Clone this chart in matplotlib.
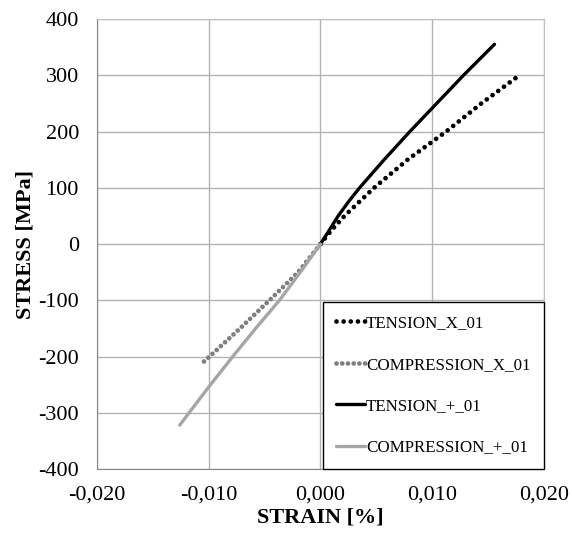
import matplotlib.pyplot as plt

plt.rcParams['font.family'] = ['Liberation Serif', 'DejaVu Serif']
plt.rcParams['axes.unicode_minus'] = False

# strain [-], stress [MPa]
tension_x_strain = [0.0, 0.001, 0.00215, 0.0048, 0.0078, 0.01125, 0.0144, 0.0178]
tension_x_stress = [0, 25, 50, 100, 150, 200, 250, 300]

compression_x_strain = [0.0, -0.0020, -0.00456, -0.0072, -0.00993, -0.01077]
compression_x_stress = [0, -50, -100, -150, -200, -215]

tension_p_strain = [0.0, 0.0008, 0.00155, 0.0025, 0.0035, 0.0046, 0.0057,
                    0.0080, 0.0104, 0.0128, 0.01557]
tension_p_stress = [0, 25, 49, 75, 100, 125, 150, 200, 250, 300, 355]

compression_p_strain = [0.0, -0.0018, -0.00367, -0.0058, -0.00785, -0.0100, -0.0126]
compression_p_stress = [0, -50, -100, -150, -200, -254, -322]

x_ticks = [-0.02, -0.01, 0.0, 0.01, 0.02]
x_tick_labels = ['-0,020', '-0,010', '0,000', '0,010', '0,020']
y_ticks = [-400, -300, -200, -100, 0, 100, 200, 300, 400]

fig = plt.figure(figsize=(5.72, 5.37), dpi=100)
ax = fig.add_axes([0.1696, 0.1266, 0.7814, 0.838])

ax.plot(tension_x_strain, tension_x_stress, color='black', lw=3.4,
        linestyle=(0, (0.01, 1.5)), dash_capstyle='round', label='TENSION_X_01')
ax.plot(compression_x_strain, compression_x_stress, color='#7f7f7f', lw=3.4,
        linestyle=(0, (0.01, 1.2)), dash_capstyle='round', label='COMPRESSION_X_01')
ax.plot(tension_p_strain, tension_p_stress, color='black', lw=2.4,
        solid_capstyle='round', solid_joinstyle='round', label='TENSION_+_01')
ax.plot(compression_p_strain, compression_p_stress, color='#a6a6a6', lw=2.4,
        solid_capstyle='round', solid_joinstyle='round', label='COMPRESSION_+_01')

ax.set_xlim(-0.02, 0.02)
ax.set_ylim(-400, 400)
ax.set_xticks(x_ticks)
ax.set_xticklabels(x_tick_labels)
ax.set_yticks(y_ticks)
ax.tick_params(labelsize=16, length=0)
ax.tick_params(axis='y', pad=13)
ax.tick_params(axis='x', pad=12)
ax.grid(True, color='#b3b3b3', lw=1.0)
ax.set_axisbelow(True)
for side in ['top', 'right']:
    ax.spines[side].set_color('#bfbfbf')
for side in ['left', 'bottom']:
    ax.spines[side].set_color('#868686')

ax.set_xlabel('STRAIN [%]', fontsize=16, fontweight='bold', labelpad=2)
ax.set_ylabel('STRESS [MPa]', fontsize=16, fontweight='bold', labelpad=2)

leg = ax.legend(loc='lower right', fontsize=12.2, frameon=True, fancybox=False,
                edgecolor='black', framealpha=1, handlelength=1.7,
                handletextpad=0.05, labelspacing=1.5, borderpad=0.8,
                borderaxespad=0)
leg.get_frame().set_linewidth(1.0)

fig.savefig('out.png', dpi=100)
